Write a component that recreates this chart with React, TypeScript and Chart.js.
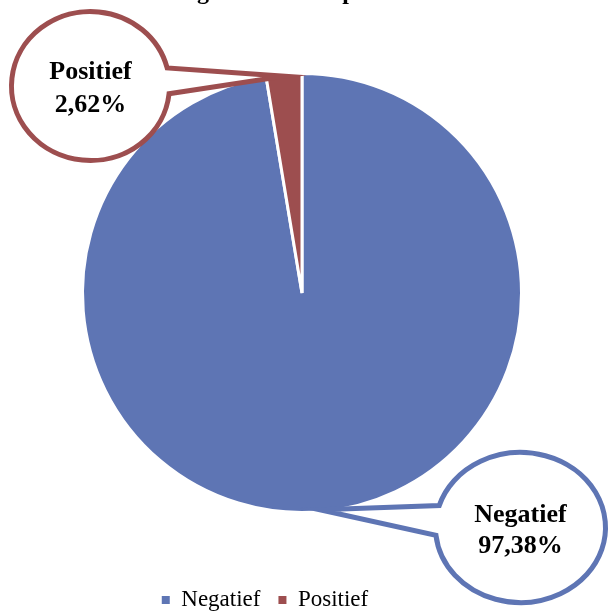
import React, { useEffect, useRef } from "react";
import { Chart, registerables } from "chart.js";

Chart.register(...registerables);

const categories = ["Negatief", "Positief"];
const values = [97.38, 2.62];
const valueLabels = ["97,38%", "2,62%"];
const sliceColors = ["#5E75B4", "#9D4E4F"];
const titleText = "Uitslag van de test op bloed";

// Callout bubbles (layout only), one per category, same order as categories
const calloutLayout = [
  { cx: 520.5, cy: 527.5, rx: 85, ry: 75, gapStart: 174, gapEnd: 197, line1Y: 522, line2Y: 553 },
  { cx: 90.5, cy: 86, rx: 79, ry: 74.5, gapStart: -14, gapEnd: 6, line1Y: 79, line2Y: 112 },
];

const SERIF = "'Liberation Serif', 'Times New Roman', serif";

const legendShift = {
  id: "legendShift",
  afterLayout(chart: any) {
    const lg = chart.legend;
    if (!lg) return;
    const dx = -37;
    const dy = 6.5;
    lg.left += dx;
    lg.right += dx;
    lg.top += dy;
    lg.bottom += dy;
  },
};

const callouts = {
  id: "callouts",
  afterDraw(chart: any) {
    const ctx = chart.ctx as CanvasRenderingContext2D;
    const meta = chart.getDatasetMeta(0);
    const rad = Math.PI / 180;
    meta.data.forEach((arc: any, i: number) => {
      const c = calloutLayout[i];
      const p = arc.getProps(["x", "y", "startAngle", "endAngle", "outerRadius"], true);
      const mid = (p.startAngle + p.endAngle) / 2;
      const tipX = p.x + (p.outerRadius - 2) * Math.cos(mid);
      const tipY = p.y + (p.outerRadius - 2) * Math.sin(mid);
      ctx.save();
      ctx.beginPath();
      ctx.ellipse(c.cx, c.cy, c.rx, c.ry, 0, c.gapEnd * rad, (c.gapStart + 360) * rad);
      ctx.lineTo(tipX, tipY);
      ctx.closePath();
      ctx.fillStyle = "#ffffff";
      ctx.fill();
      ctx.lineWidth = 5;
      ctx.lineJoin = "miter";
      ctx.strokeStyle = sliceColors[i];
      ctx.stroke();
      ctx.fillStyle = "#000000";
      ctx.font = `bold 26px ${SERIF}`;
      ctx.textAlign = "center";
      ctx.textBaseline = "alphabetic";
      ctx.fillText(categories[i], c.cx, c.line1Y);
      ctx.fillText(valueLabels[i], c.cx, c.line2Y);
      ctx.restore();
    });
    // title (cut off at the top edge)
    ctx.save();
    ctx.font = `bold 24px ${SERIF}`;
    ctx.fillStyle = "#000000";
    ctx.textAlign = "left";
    ctx.textBaseline = "alphabetic";
    const pre = ctx.measureText("Uitsla").width;
    ctx.fillText(titleText, 197 - pre, -1);
    ctx.restore();
  },
};

export default function App() {
  const ref = useRef<HTMLCanvasElement | null>(null);
  useEffect(() => {
    document.body.style.margin = "0";
    if (!ref.current) return;
    const chart = new Chart(ref.current, {
      type: "pie",
      data: {
        labels: categories,
        datasets: [
          {
            data: values,
            backgroundColor: sliceColors,
            borderColor: "#ffffff",
            borderWidth: 3,
          },
        ],
      },
      options: {
        responsive: false,
        animation: false,
        events: [],
        layout: { padding: { top: 22, left: 81, right: 87, bottom: 0 } },
        plugins: {
          tooltip: { enabled: false },
          title: { display: false },
          legend: {
            display: true,
            position: "bottom",
            labels: {
              boxWidth: 8,
              boxHeight: 8,
              padding: 18,
              color: "#000000",
              font: { family: SERIF, size: 23 },
              generateLabels: (ch: any) => {
                const base = (Chart as any).overrides.pie.plugins.legend.labels.generateLabels(ch);
                return base.map((l: any) => ({ ...l, lineWidth: 0, strokeStyle: l.fillStyle }));
              },
            },
          },
        },
      },
      plugins: [legendShift, callouts],
    });
    return () => chart.destroy();
  }, []);
  return (
    <div style={{ width: 610, height: 615 }}>
      <canvas ref={ref} width={610} height={615} style={{ display: "block" }} />
    </div>
  );
}
